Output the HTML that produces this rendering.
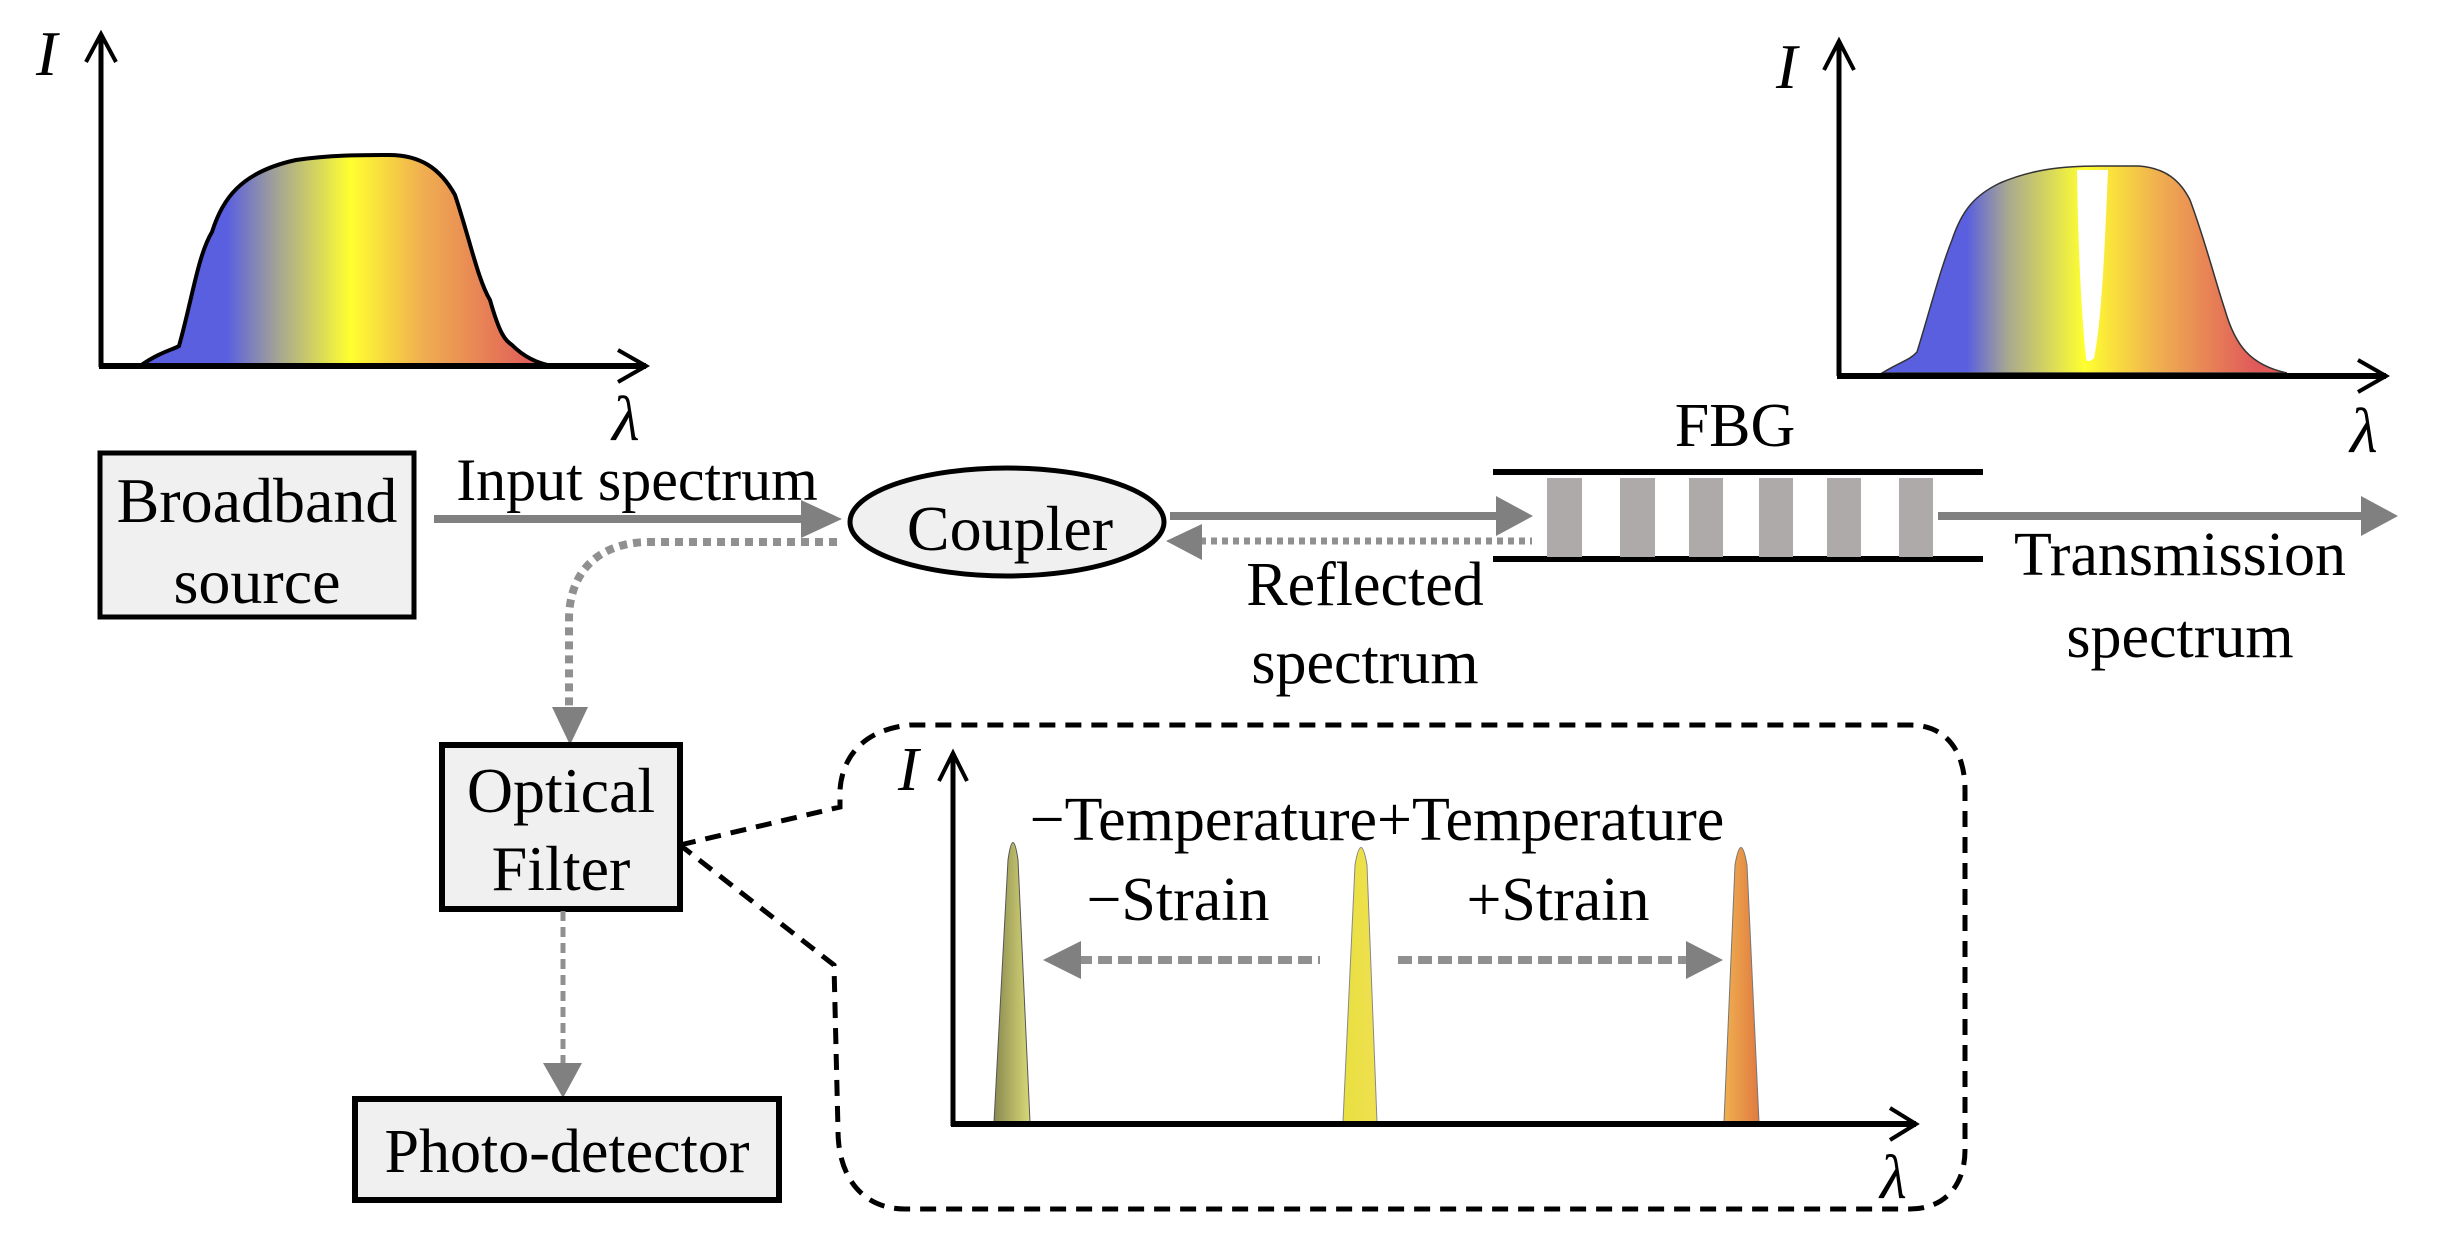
<!DOCTYPE html>
<html><head><meta charset="utf-8"><style>html,body{margin:0;padding:0;background:#fff}svg{display:block}text{font-family:"Liberation Serif",serif;fill:#000}</style></head>
<body>
<svg width="2441" height="1251" viewBox="0 0 2441 1251" xmlns="http://www.w3.org/2000/svg">
<defs>
<linearGradient id="g1" gradientUnits="userSpaceOnUse" x1="140" y1="0" x2="553" y2="0">
<stop offset="0" stop-color="#5a5fe0"/><stop offset="0.21" stop-color="#5a5fe0"/><stop offset="0.34" stop-color="#a8a890"/><stop offset="0.51" stop-color="#ffff30"/><stop offset="0.68" stop-color="#f0b050"/><stop offset="0.96" stop-color="#e05a5a"/><stop offset="1" stop-color="#e05a5a"/></linearGradient>
<linearGradient id="g2" gradientUnits="userSpaceOnUse" x1="1882" y1="0" x2="2287" y2="0">
<stop offset="0" stop-color="#5a5fe0"/><stop offset="0.21" stop-color="#5a5fe0"/><stop offset="0.31" stop-color="#a8a890"/><stop offset="0.5" stop-color="#ffff30"/><stop offset="0.68" stop-color="#f0b050"/><stop offset="0.92" stop-color="#e05a5a"/><stop offset="1" stop-color="#e05a5a"/></linearGradient>
<linearGradient id="p1" x1="0" y1="0" x2="1" y2="0"><stop offset="0" stop-color="#8a8a50"/><stop offset="1" stop-color="#d8d878"/></linearGradient>
<linearGradient id="p2" x1="0" y1="0" x2="1" y2="0"><stop offset="0" stop-color="#e8e040"/><stop offset="1" stop-color="#f0e050"/></linearGradient>
<linearGradient id="p3" x1="0" y1="0" x2="1" y2="0"><stop offset="0" stop-color="#f0b050"/><stop offset="1" stop-color="#e07a40"/></linearGradient>
</defs>

<!-- Left plot -->
<path d="M140,366 C160,352 172,350 179,346 C192,300 198,255 212,232 C222,200 240,172 296,160 C330,155 360,155 389,155 C420,155 440,168 455,195 C470,240 478,280 490,300 C500,335 505,340 512,345 C525,358 540,364 553,366 Z" fill="url(#g1)" stroke="#000" stroke-width="4"/>
<line x1="101" y1="34" x2="101" y2="367" stroke="#000" stroke-width="5"/>
<line x1="99" y1="366" x2="646" y2="366" stroke="#000" stroke-width="6"/>
<polyline points="86,62 101,34 116,62" fill="none" stroke="#000" stroke-width="4"/>
<polyline points="618,350 646,366 618,382" fill="none" stroke="#000" stroke-width="4"/>
<text x="36" y="75" font-size="64" font-style="italic">I</text>
<text x="612" y="440" font-size="64" font-style="italic">λ</text>

<!-- Right plot -->
<path d="M1882,373 C1900,362 1910,360 1917,352 C1930,310 1940,270 1952,240 C1962,210 1975,195 2000,183 C2030,170 2060,166 2100,166 L2139,166 C2165,168 2180,180 2190,200 C2205,240 2215,280 2225,310 C2235,345 2250,365 2287,373 Z" fill="url(#g2)" stroke="#333" stroke-width="1.5"/>
<path d="M2077,170 L2108,170 C2105,240 2102,320 2094,358 C2090,362 2086,362 2086,358 C2080,300 2078,230 2077,170 Z" fill="#fff"/>
<line x1="1839" y1="41" x2="1839" y2="376" stroke="#000" stroke-width="5"/>
<line x1="1837" y1="376" x2="2386" y2="376" stroke="#000" stroke-width="6"/>
<polyline points="1824,70 1839,41 1854,70" fill="none" stroke="#000" stroke-width="4"/>
<polyline points="2358,360 2386,376 2358,392" fill="none" stroke="#000" stroke-width="4"/>
<text x="1776" y="88" font-size="64" font-style="italic">I</text>
<text x="2350" y="452" font-size="64" font-style="italic">λ</text>

<!-- Broadband source -->
<rect x="100" y="453" width="314" height="164" fill="#f0f0f0" stroke="#000" stroke-width="5"/>
<text x="257" y="522" font-size="64" text-anchor="middle">Broadband</text>
<text x="257" y="603" font-size="64" text-anchor="middle">source</text>

<!-- Input spectrum arrow -->
<text x="637" y="500" font-size="60" text-anchor="middle">Input spectrum</text>
<line x1="434" y1="519" x2="805" y2="519" stroke="#808080" stroke-width="8"/>
<polygon points="801,500 842,519 801,538" fill="#808080"/>

<!-- Coupler -->
<ellipse cx="1007" cy="522" rx="157" ry="54" fill="#f0f0f0" stroke="#000" stroke-width="5"/>
<text x="1010" y="550" font-size="64" text-anchor="middle">Coupler</text>

<!-- dotted coupler -> filter -->
<path d="M837,542 L650,542 C600,542 569,570 569,620 L569,710" fill="none" stroke="#909090" stroke-width="8" stroke-dasharray="8,6"/>
<polygon points="552,707 588,707 570,745" fill="#808080"/>

<!-- coupler <-> FBG -->
<line x1="1170" y1="516" x2="1500" y2="516" stroke="#808080" stroke-width="8"/>
<polygon points="1496,496 1533,516 1496,536" fill="#808080"/>
<line x1="1200" y1="541" x2="1532" y2="541" stroke="#909090" stroke-width="7" stroke-dasharray="6,5"/>
<polygon points="1202,524 1166,541 1202,560" fill="#808080"/>
<text x="1365" y="605" font-size="62" text-anchor="middle">Reflected</text>
<text x="1365" y="683" font-size="62" text-anchor="middle">spectrum</text>

<!-- FBG -->
<text x="1735" y="446" font-size="62" text-anchor="middle">FBG</text>
<line x1="1493" y1="472" x2="1983" y2="472" stroke="#000" stroke-width="6"/>
<line x1="1493" y1="559" x2="1983" y2="559" stroke="#000" stroke-width="6"/>
<g fill="#aeaaa9">
<rect x="1547" y="478" width="35" height="79"/><rect x="1620" y="478" width="35" height="79"/><rect x="1689" y="478" width="34" height="79"/><rect x="1759" y="478" width="34" height="79"/><rect x="1827" y="478" width="34" height="79"/><rect x="1899" y="478" width="34" height="79"/>
</g>
<line x1="1938" y1="516" x2="2365" y2="516" stroke="#808080" stroke-width="8"/>
<polygon points="2361,496 2398,516 2361,536" fill="#808080"/>
<text x="2180" y="575" font-size="62" text-anchor="middle">Transmission</text>
<text x="2180" y="657" font-size="62" text-anchor="middle">spectrum</text>

<!-- Optical filter -->
<rect x="442" y="745" width="238" height="164" fill="#f0f0f0" stroke="#000" stroke-width="6"/>
<text x="561" y="812" font-size="64" text-anchor="middle">Optical</text>
<text x="561" y="890" font-size="64" text-anchor="middle">Filter</text>
<line x1="563" y1="911" x2="563" y2="1066" stroke="#909090" stroke-width="5" stroke-dasharray="10,6"/>
<polygon points="543,1063 582,1063 563,1098" fill="#808080"/>

<!-- Photo-detector -->
<rect x="355" y="1099" width="424" height="101" fill="#f0f0f0" stroke="#000" stroke-width="6"/>
<text x="567" y="1172" font-size="62" text-anchor="middle">Photo-detector</text>

<!-- dashed callout -->
<path d="M680,845 L840,807 L840,790 C842,760 860,730 910,725 L1910,725 C1945,725 1965,750 1965,790 L1965,1150 C1965,1185 1945,1209 1910,1209 L905,1209 C865,1209 838,1180 838,1130 L834,965 L680,845" fill="none" stroke="#000" stroke-width="5" stroke-dasharray="16,10"/>

<!-- inner plot -->
<path d="M994,1122 L1008,860 Q1013,825 1018,860 L1030,1122 Z" fill="url(#p1)" stroke="#555" stroke-width="1"/>
<path d="M1343,1122 L1355,865 Q1361,830 1367,865 L1377,1122 Z" fill="url(#p2)" stroke="#888" stroke-width="1"/>
<path d="M1724,1122 L1735,865 Q1741,830 1747,865 L1759,1122 Z" fill="url(#p3)" stroke="#777" stroke-width="1"/>
<line x1="953" y1="753" x2="953" y2="1126" stroke="#000" stroke-width="5"/>
<line x1="951" y1="1124" x2="1916" y2="1124" stroke="#000" stroke-width="6"/>
<polyline points="939,781 953,753 967,781" fill="none" stroke="#000" stroke-width="4"/>
<polyline points="1890,1108 1916,1124 1890,1140" fill="none" stroke="#000" stroke-width="4"/>
<text x="898" y="790" font-size="62" font-style="italic">I</text>
<text x="1880" y="1198" font-size="62" font-style="italic">λ</text>
<text x="1377" y="840" font-size="62" text-anchor="middle">−Temperature+Temperature</text>
<text x="1178" y="920" font-size="62" text-anchor="middle">−Strain</text>
<text x="1558" y="920" font-size="62" text-anchor="middle">+Strain</text>
<line x1="1078" y1="960" x2="1320" y2="960" stroke="#909090" stroke-width="8" stroke-dasharray="14,6"/>
<polygon points="1081,941 1043,960 1081,979" fill="#808080"/>
<line x1="1398" y1="960" x2="1690" y2="960" stroke="#909090" stroke-width="8" stroke-dasharray="14,6"/>
<polygon points="1686,941 1723,960 1686,979" fill="#808080"/>
</svg>
</body></html>
